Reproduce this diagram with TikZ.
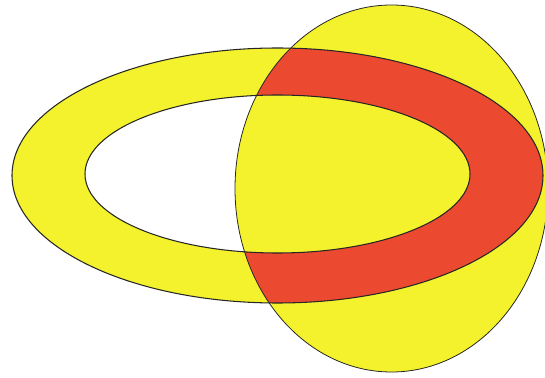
\documentclass[tikz,border=0pt]{standalone}
\usepackage{tikz}
\usepackage{xcolor}
\definecolor{ringyellow}{RGB}{244,242,44}
\definecolor{ringred}{RGB}{236,74,48}

\begin{document}
\begin{tikzpicture}[x=0.02cm,y=-0.02cm]
\useasboundingbox (0,0) rectangle (545,378);
\fill[ringyellow,even odd rule] (277.5,175.5) ellipse [x radius=265.5,y radius=127.5]
  (277.5,174) ellipse [x radius=192.5,y radius=79];
\fill[ringyellow] (391.5,188.5) ellipse [x radius=156.5,y radius=183.5];
\begin{scope}
\clip (391.5,188.5) ellipse [x radius=156.5,y radius=183.5];
\fill[ringred,even odd rule] (277.5,175.5) ellipse [x radius=265.5,y radius=127.5]
  (277.5,174) ellipse [x radius=192.5,y radius=79];
\end{scope}
\draw[black!85,line width=0.6pt] (277.5,175.5) ellipse [x radius=265.5,y radius=127.5];
\draw[black!85,line width=0.6pt] (277.5,174) ellipse [x radius=192.5,y radius=79];
\draw[black!85,line width=0.45pt] (391.5,188.5) ellipse [x radius=156.5,y radius=183.5];
\end{tikzpicture}
\end{document}
